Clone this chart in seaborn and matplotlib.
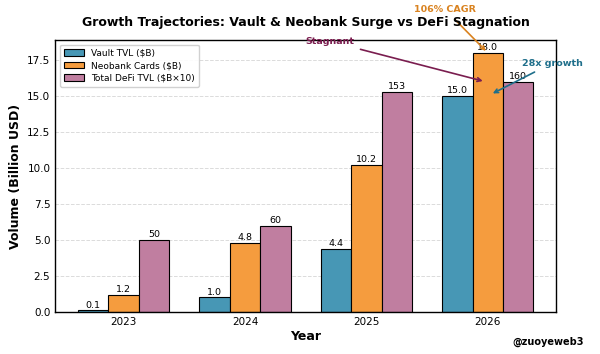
import seaborn as sns
from matplotlib import pyplot as plt
import pandas as pd

years = ["2023", "2024", "2025", "2026"]
vault_tvl = [0.1, 1.0, 4.4, 15.0]
neobank_cards = [1.2, 4.8, 10.2, 18.0]
defi_tvl = [50, 60, 153, 160]  # shown as $B x10

series_names = ["Vault TVL ($B)", "Neobank Cards ($B)", "Total DeFi TVL ($B×10)"]
colors = ["#4797b5", "#f59c3e", "#c07ea0"]

df = pd.DataFrame({
    "Year": years * 3,
    "Series": [series_names[0]] * 4 + [series_names[1]] * 4 + [series_names[2]] * 4,
    "Value": vault_tvl + neobank_cards + [v / 10 for v in defi_tvl],
})

sns.set_style("white")
plt.rcParams["font.family"] = ["DejaVu Sans"]
plt.rcParams.update({
    "text.color": "black",
    "axes.labelcolor": "black",
    "xtick.color": "black",
    "ytick.color": "black",
})

fig, ax = plt.subplots(figsize=(6, 3.54), dpi=100)
fig.subplots_adjust(left=0.092, right=0.927, bottom=0.119, top=0.887)

sns.barplot(
    data=df, x="Year", y="Value", hue="Series",
    palette=colors, saturation=1, width=0.75,
    edgecolor="black", linewidth=0.8, ax=ax,
)

labels = [
    [f"{v:.1f}" for v in vault_tvl],
    [f"{v:.1f}" for v in neobank_cards],
    [f"{v}" for v in defi_tvl],
]
for cont, lab in zip(ax.containers, labels):
    ax.bar_label(cont, labels=lab, fontsize=6.8, padding=0.5, color="black")

ax.set_xlim(-0.5625, 3.5625)
ax.set_ylim(0, 18.9)
ax.set_title("Growth Trajectories: Vault & Neobank Surge vs DeFi Stagnation",
             fontsize=9, fontweight="bold", pad=10, color="black")
ax.set_xlabel("Year", fontsize=9, fontweight="bold", labelpad=2)
ax.set_ylabel("Volume (Billion USD)", fontsize=9, fontweight="bold")
ax.tick_params(axis="both", labelsize=7.5, direction="in", length=3, width=0.8)
ax.yaxis.grid(True, linestyle="--", color="#cccccc", alpha=0.7, linewidth=0.7)
ax.set_axisbelow(True)
for s in ax.spines.values():
    s.set_color("black")
    s.set_linewidth(1.0)

ax.legend(loc="upper left", fontsize=6.5, frameon=True, framealpha=0.9,
          handlelength=2.2, borderpad=0.45, labelspacing=0.4)

ax.annotate("106% CAGR", xy=(3, 18.0), xytext=(2.65, 21.0),
            fontsize=6.8, fontweight="bold", color="#d9821f", ha="center",
            va="center", annotation_clip=False,
            arrowprops=dict(arrowstyle="->", color="#d9821f", lw=1.2))
ax.annotate("28x growth", xy=(3.02, 15.1), xytext=(3.53, 17.3),
            fontsize=6.8, fontweight="bold", color="#1f6f8b", ha="center",
            va="center", annotation_clip=False,
            arrowprops=dict(arrowstyle="->", color="#1f6f8b", lw=1.2))
ax.annotate("Stagnant", xy=(2.98, 16.0), xytext=(1.7, 18.8),
            fontsize=6.8, fontweight="bold", color="#7a1d4f", ha="center",
            va="center", annotation_clip=False,
            arrowprops=dict(arrowstyle="->", color="#7a1d4f", lw=1.2))

fig.text(0.973, 0.025, "@zuoyeweb3", fontsize=7, fontweight="bold", ha="right")

fig.savefig("out.png", dpi=100)
